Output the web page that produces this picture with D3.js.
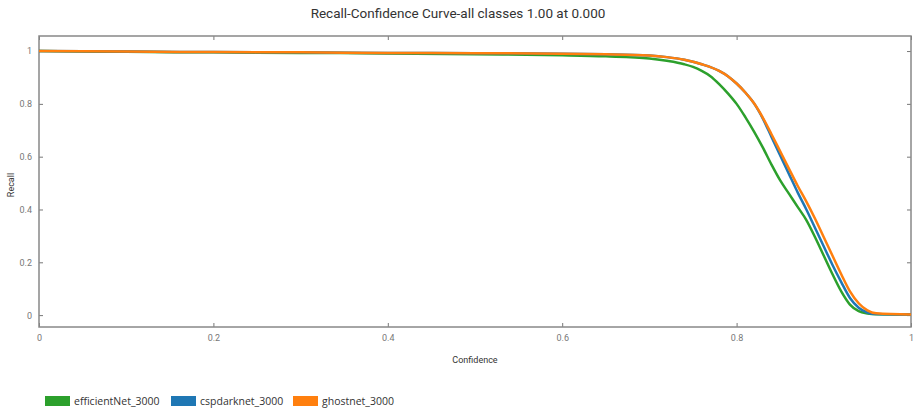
<!DOCTYPE html>
<html><head><meta charset="utf-8">
<script src="https://cdn.jsdelivr.net/npm/d3@7"></script>
<style>body{margin:0;background:#fff}svg{display:block}</style>
</head><body>
<svg id="c" width="917" height="412"></svg>
<script>
const seriesNames = ["efficientNet_3000", "cspdarknet_3000", "ghostnet_3000"];
const seriesColors = ["#2ca02c", "#1f77b4", "#ff7f0e"];
const confEfficient = [0, 0.1, 0.2, 0.3, 0.4, 0.5, 0.6, 0.65, 0.7, 0.72, 0.74, 0.75, 0.76, 0.77, 0.78, 0.79, 0.8, 0.81, 0.82, 0.83, 0.84, 0.85, 0.86, 0.87, 0.88, 0.89, 0.9, 0.91, 0.92, 0.93, 0.94, 0.95, 0.96, 1];
const recallEfficient = [1.0, 0.997, 0.995, 0.993, 0.991, 0.988, 0.984, 0.98, 0.972, 0.963, 0.95, 0.94, 0.925, 0.905, 0.875, 0.84, 0.8, 0.75, 0.695, 0.635, 0.57, 0.51, 0.46, 0.41, 0.36, 0.295, 0.225, 0.155, 0.09, 0.04, 0.015, 0.006, 0.003, 0.002];
const confCsp = [0, 0.1, 0.2, 0.3, 0.4, 0.5, 0.6, 0.65, 0.7, 0.72, 0.74, 0.76, 0.78, 0.79, 0.8, 0.81, 0.82, 0.83, 0.84, 0.85, 0.86, 0.87, 0.88, 0.89, 0.9, 0.91, 0.92, 0.93, 0.94, 0.95, 0.96, 1];
const recallCsp = [1.0, 0.998, 0.996, 0.995, 0.993, 0.992, 0.99, 0.988, 0.983, 0.977, 0.967, 0.95, 0.925, 0.905, 0.877, 0.843, 0.802, 0.745, 0.675, 0.605, 0.535, 0.465, 0.4, 0.33, 0.26, 0.19, 0.125, 0.065, 0.028, 0.01, 0.004, 0.002];
const confGhost = [0, 0.1, 0.2, 0.3, 0.4, 0.5, 0.6, 0.65, 0.7, 0.72, 0.74, 0.76, 0.78, 0.79, 0.8, 0.81, 0.82, 0.83, 0.84, 0.85, 0.86, 0.87, 0.88, 0.89, 0.9, 0.91, 0.92, 0.93, 0.94, 0.95, 0.96, 1];
const recallGhost = [1.0, 0.998, 0.996, 0.995, 0.993, 0.992, 0.99, 0.988, 0.983, 0.977, 0.967, 0.95, 0.925, 0.905, 0.877, 0.843, 0.802, 0.748, 0.685, 0.62, 0.555, 0.49, 0.43, 0.365, 0.295, 0.225, 0.155, 0.09, 0.045, 0.018, 0.007, 0.002];
const xTicks = [0, 0.2, 0.4, 0.6, 0.8, 1];
const yTicks = [0, 0.2, 0.4, 0.6, 0.8, 1];
const titleText = "Recall-Confidence Curve-all classes 1.00 at 0.000";

const series = [
  {name: seriesNames[0], color: seriesColors[0], xs: confEfficient, ys: recallEfficient},
  {name: seriesNames[1], color: seriesColors[1], xs: confCsp, ys: recallCsp},
  {name: seriesNames[2], color: seriesColors[2], xs: confGhost, ys: recallGhost}
];

const svg = d3.select("#c");
const L = 39, R = 911, T = 36, B = 327;
const x = d3.scaleLinear().domain([0, 1]).range([L, R]);
const y = d3.scaleLinear().domain([-0.045, 1.057]).range([B, T]);
const font = "Roboto, 'Open Sans', sans-serif";

svg.append("text").attr("x", 458).attr("y", 18).attr("text-anchor", "middle")
  .attr("font-family", font).attr("font-size", 13.5).attr("fill", "#333")
  .text(titleText);

const fmt = d => d === 0 ? "0" : d === 1 ? "1" : String(d);

const axB = svg.append("g").attr("transform", `translate(0,${B})`)
  .call(d3.axisBottom(x).tickValues(xTicks).tickSizeInner(-4).tickSizeOuter(0).tickPadding(8).tickFormat(fmt));
const axT = svg.append("g").attr("transform", `translate(0,${T})`)
  .call(d3.axisTop(x).tickValues(xTicks).tickSizeInner(-4).tickSizeOuter(0).tickFormat(""));
const axL = svg.append("g").attr("transform", `translate(${L},0)`)
  .call(d3.axisLeft(y).tickValues(yTicks).tickSizeInner(-4).tickSizeOuter(0).tickPadding(7).tickFormat(fmt));
const axR = svg.append("g").attr("transform", `translate(${R},0)`)
  .call(d3.axisRight(y).tickValues(yTicks).tickSizeInner(-4).tickSizeOuter(0).tickFormat(""));
[axB, axT, axL, axR].forEach(a => {
  a.select(".domain").remove();
  a.selectAll(".tick line").attr("stroke", "#777").attr("stroke-width", 1);
  a.selectAll(".tick text").attr("fill", "#777").attr("font-size", 9).attr("font-family", font);
});

svg.append("rect").attr("x", L).attr("y", T).attr("width", R - L).attr("height", B - T)
  .attr("fill", "none").attr("stroke", "#888").attr("stroke-width", 1.5);

svg.append("clipPath").attr("id", "clip").append("rect")
  .attr("x", L).attr("y", T).attr("width", R - L).attr("height", B - T);

const line = d3.line().x(d => x(d[0])).y(d => y(d[1])).curve(d3.curveMonotoneX);
svg.append("g").attr("clip-path", "url(#clip)").selectAll("path").data(series).join("path")
  .attr("d", s => line(s.xs.map((v, i) => [v, s.ys[i]])))
  .attr("fill", "none").attr("stroke", s => s.color).attr("stroke-width", 2.5)
  .attr("stroke-linejoin", "round");

svg.append("text").attr("transform", "translate(14,185) rotate(-90)").attr("text-anchor", "middle")
  .attr("font-family", font).attr("font-size", 9).attr("fill", "#333").text("Recall");
svg.append("text").attr("x", 475).attr("y", 363).attr("text-anchor", "middle")
  .attr("font-family", font).attr("font-size", 9).attr("fill", "#333").text("Confidence");

const lg = svg.append("g").attr("transform", "translate(45,396)");
const offsets = [0, 126, 248];
series.forEach((s, i) => {
  const g = lg.append("g").attr("transform", `translate(${offsets[i]},0)`);
  g.append("rect").attr("width", 25).attr("height", 10).attr("fill", s.color);
  g.append("text").attr("x", 29).attr("y", 9).attr("font-family", "'Open Sans', sans-serif")
    .attr("font-size", 10.5).attr("fill", "#333").text(s.name);
});
</script>
</body></html>
